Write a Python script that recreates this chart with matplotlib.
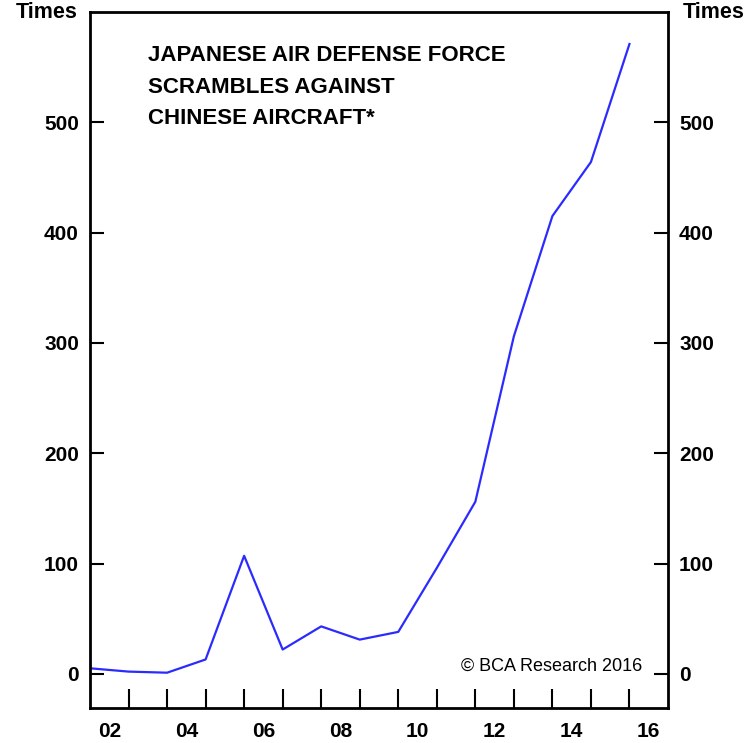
import numpy as np
import matplotlib.pyplot as plt
from matplotlib.ticker import FixedLocator, NullFormatter

plt.rcParams['font.family'] = ['Liberation Sans', 'DejaVu Sans']

# fiscal-year scramble counts, plotted at year boundaries
years = [2002, 2003, 2004, 2005, 2006, 2007, 2008, 2009,
         2010, 2011, 2012, 2013, 2014, 2015, 2016]
scrambles = [5, 2, 1, 13, 107, 22, 43, 31, 38, 96, 156, 306, 415, 464, 571]

yticks = [0, 100, 200, 300, 400, 500]
xlabels = ['02', '04', '06', '08', '10', '12', '14', '16']
xlabel_pos = [2002.5, 2004.5, 2006.5, 2008.5, 2010.5, 2012.5, 2014.5, 2016.5]

fig = plt.figure(figsize=(7.55, 7.43), dpi=100)
ax = fig.add_axes([90/755, 1 - 708/743, 578/755, 696/743])

ax.plot(years, scrambles, color='#2b2bff', linewidth=1.6)

ax.set_xlim(2002, 2017)
ax.set_ylim(-31, 600)

for s in ax.spines.values():
    s.set_linewidth(2)

ax.set_yticks(yticks)
ax.tick_params(axis='y', direction='in', length=10, width=1.5,
               left=True, right=True, labelleft=True, labelright=True,
               labelsize=15, pad=8)
for lab in ax.get_yticklabels():
    lab.set_fontweight('bold')

ax.xaxis.set_major_locator(FixedLocator(list(range(2003, 2017))))
ax.xaxis.set_major_formatter(NullFormatter())
ax.xaxis.set_minor_locator(FixedLocator(xlabel_pos))
ax.set_xticklabels(xlabels, minor=True)
ax.tick_params(axis='x', which='major', direction='in', length=14, width=1.5)
ax.tick_params(axis='x', which='minor', length=0, labelsize=15, pad=10)
for lab in ax.get_xticklabels(minor=True):
    lab.set_fontweight('bold')

fig.text(78/755, 1 - 13/743, 'Times', ha='right', va='center',
         fontsize=15.5, fontweight='bold')
fig.text(683/755, 1 - 13/743, 'Times', ha='left', va='center',
         fontsize=15.5, fontweight='bold')

ax.text(0.10, 0.952, 'JAPANESE AIR DEFENSE FORCE\nSCRAMBLES AGAINST\nCHINESE AIRCRAFT*',
        transform=ax.transAxes, ha='left', va='top', fontsize=16,
        fontweight='bold', linespacing=1.65)
ax.text(0.955, 0.06, '\u00a9 BCA Research 2016', transform=ax.transAxes,
        ha='right', va='center', fontsize=13)

fig.savefig('out.png', dpi=100)
